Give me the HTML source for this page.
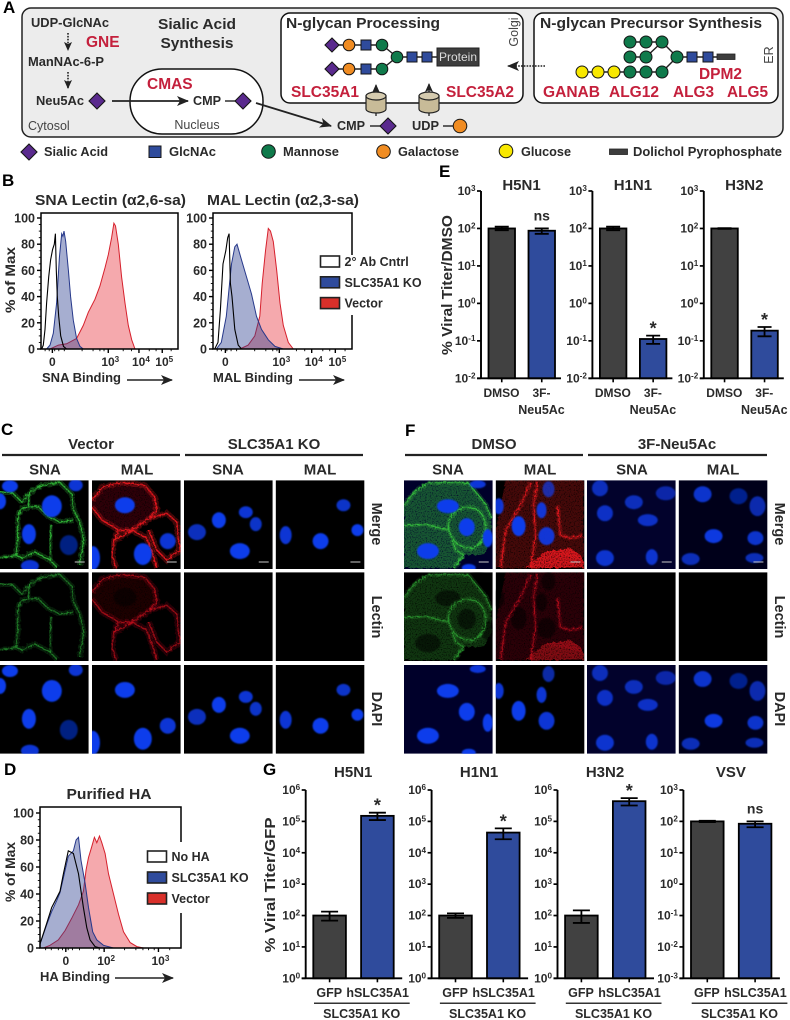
<!DOCTYPE html>
<html lang="en">
<head>
<meta charset="utf-8">
<title>SLC35A1 sialic acid figure</title>
<style>
html,body{margin:0;padding:0;background:#fff;}
#figure{display:block;font-family:"Liberation Sans",sans-serif;font-weight:bold;}
#figure text{fill:#2a2a2a;}
#figure text.red{fill:#c4203c;font-size:15.5px;}
#figure text.thin{font-weight:normal;fill:#444;font-size:12.5px;}
#figure text.let{fill:#000;font-size:17px;}
#figure text.s13{font-size:13px;}
#figure text.s15{font-size:15px;}
.sia{fill:#5a2a8e;stroke:#151515;stroke-width:1.1;}
.glc{fill:#2f4b9c;stroke:#151515;stroke-width:1;}
.man{fill:#0f7a4b;stroke:#151515;stroke-width:1;}
.gal{fill:#f08c22;stroke:#151515;stroke-width:1;}
.glu{fill:#f8e800;stroke:#151515;stroke-width:1;}
.lnk{stroke:#222;stroke-width:1.4;fill:none;}
</style>
</head>
<body>
<svg id="figure" xmlns="http://www.w3.org/2000/svg" width="790" height="1020" viewBox="0 0 790 1020">
<defs>
<marker id="ah" markerUnits="userSpaceOnUse" markerWidth="12" markerHeight="10" refX="11" refY="5" orient="auto"><path d="M0 0L12 5L0 10L3 5Z" fill="#222"/></marker>
<marker id="ahs" markerUnits="userSpaceOnUse" markerWidth="9" markerHeight="8" refX="8" refY="4" orient="auto"><path d="M0 0L9 4L0 8L2 4Z" fill="#222"/></marker>
<filter id="blur" x="-30%" y="-30%" width="160%" height="160%"><feGaussianBlur stdDeviation="0.9"/></filter>
<filter id="rough" x="-10%" y="-10%" width="120%" height="120%">
<feTurbulence type="fractalNoise" baseFrequency="0.3" numOctaves="2" seed="4" result="n"/>
<feDisplacementMap in="SourceGraphic" in2="n" scale="3.5" result="d"/>
<feTurbulence type="fractalNoise" baseFrequency="0.8" numOctaves="1" seed="9"/>
<feColorMatrix type="matrix" values="0 0 0 0 1 0 0 0 0 1 0 0 0 0 1 2.6 0 0 0 -0.35" result="g"/>
<feComposite in="d" in2="g" operator="in"/>
<feGaussianBlur stdDeviation="0.25"/>
</filter>
<g id="cyl"><path d="M-10 -9V4A10 4 0 0 0 10 4V-9Z" fill="#c8bb98" stroke="#222" stroke-width="1.2"/><ellipse cx="0" cy="-9" rx="10" ry="4" fill="#d5cbaf" stroke="#222" stroke-width="1.2"/></g>
</defs>

<g>
<text class="let" x="3" y="13">A</text>
<rect x="22" y="8" width="761" height="129" rx="9" fill="#ececec" stroke="#222" stroke-width="1.5"/>
<text x="70" y="27" text-anchor="middle" font-size="13" textLength="78" lengthAdjust="spacingAndGlyphs">UDP-GlcNAc</text>
<text class="red" x="86" y="47">GNE</text>
<text x="66" y="66" text-anchor="middle" font-size="13" textLength="76" lengthAdjust="spacingAndGlyphs">ManNAc-6-P</text>
<line x1="68" y1="33" x2="68" y2="50" stroke="#222" stroke-width="1.6" stroke-dasharray="1.6 1.3" marker-end="url(#ahs)"/>
<line x1="68" y1="72" x2="68" y2="88" stroke="#222" stroke-width="1.6" stroke-dasharray="1.6 1.3" marker-end="url(#ahs)"/>
<text x="36" y="105" font-size="13" textLength="48" lengthAdjust="spacingAndGlyphs">Neu5Ac</text>
<path class="sia" transform="translate(97,101)" d="M-8 0L0-8L8 0L0 8Z"/>
<text class="s15" x="197" y="29" text-anchor="middle" textLength="78" lengthAdjust="spacingAndGlyphs">Sialic Acid</text>
<text class="s15" x="197" y="48" text-anchor="middle" textLength="73" lengthAdjust="spacingAndGlyphs">Synthesis</text>
<rect x="130" y="69" width="133" height="65" rx="32" fill="#fff" stroke="#111" stroke-width="1.5"/>
<text class="red" x="147" y="89">CMAS</text>
<line x1="112" y1="101" x2="188" y2="101" stroke="#222" stroke-width="1.8" marker-end="url(#ah)"/>
<text x="193" y="105" font-size="13" textLength="28" lengthAdjust="spacingAndGlyphs">CMP</text>
<line class="lnk" x1="225" y1="101" x2="236" y2="101"/>
<path class="sia" transform="translate(243,101)" d="M-8 0L0-8L8 0L0 8Z"/>
<text class="thin" x="197" y="129" text-anchor="middle">Nucleus</text>
<text class="thin" x="28" y="130">Cytosol</text>
<line x1="256" y1="103" x2="331" y2="126" stroke="#222" stroke-width="1.9" marker-end="url(#ah)"/>
<text x="337" y="130" font-size="13" textLength="28" lengthAdjust="spacingAndGlyphs">CMP</text>
<line class="lnk" x1="370" y1="126" x2="381" y2="126"/>
<path class="sia" transform="translate(388,126)" d="M-8 0L0-8L8 0L0 8Z"/>
<text x="412" y="130" font-size="13" textLength="27" lengthAdjust="spacingAndGlyphs">UDP</text>
<line class="lnk" x1="443" y1="126" x2="453" y2="126"/>
<circle class="gal" cx="460" cy="126" r="6.8"/>

<rect x="281" y="13" width="242" height="90" rx="9" fill="#fff" stroke="#111" stroke-width="1.5"/>
<text class="s15" x="286" y="28" textLength="154" lengthAdjust="spacingAndGlyphs">N-glycan Processing</text>
<g>
<path class="lnk" d="M332 45H382L397 57M332 69H382L397 57H437"/>
<path class="sia" transform="translate(332,45)" d="M-7 0L0-7L7 0L0 7Z"/><circle class="gal" cx="349" cy="45" r="5.8"/><rect class="glc" x="361" y="40" width="10" height="10"/><circle class="man" cx="382" cy="45" r="5.8"/>
<path class="sia" transform="translate(332,69)" d="M-7 0L0-7L7 0L0 7Z"/><circle class="gal" cx="349" cy="69" r="5.8"/><rect class="glc" x="361" y="64" width="10" height="10"/><circle class="man" cx="382" cy="69" r="5.8"/>
<circle class="man" cx="397" cy="57" r="5.8"/><rect class="glc" x="407" y="52" width="10" height="10"/><rect class="glc" x="422" y="52" width="10" height="10"/>
</g>
<rect x="437" y="48" width="42" height="18" fill="#3d3d3d" stroke="#222"/>
<text x="458" y="61" text-anchor="middle" font-size="12" font-weight="normal" style="fill:#ddd">Protein</text>
<text class="red" x="291" y="97" textLength="68" lengthAdjust="spacingAndGlyphs">SLC35A1</text>
<text class="red" x="446" y="97" textLength="68" lengthAdjust="spacingAndGlyphs">SLC35A2</text>
<text class="thin" transform="translate(518,32) rotate(-90)" text-anchor="middle" font-size="12">Golgi</text>
<line x1="376" y1="96" x2="376" y2="85" stroke="#222" stroke-width="1.3" marker-end="url(#ahs)"/>
<line x1="376" y1="108" x2="376" y2="116" stroke="#222" stroke-width="1.3"/>
<use href="#cyl" x="376" y="105"/>
<line x1="429" y1="96" x2="429" y2="84" stroke="#222" stroke-width="1.3" marker-end="url(#ahs)"/>
<line x1="429" y1="108" x2="429" y2="116" stroke="#222" stroke-width="1.3"/>
<use href="#cyl" x="429" y="105"/>

<rect x="534" y="13" width="244" height="90" rx="9" fill="#fff" stroke="#111" stroke-width="1.5"/>
<line x1="545" y1="66" x2="508" y2="66" stroke="#222" stroke-width="1.6" stroke-dasharray="1.6 1.2" marker-end="url(#ah)"/>
<text class="s15" x="540" y="28" textLength="222" lengthAdjust="spacingAndGlyphs">N-glycan Precursor Synthesis</text>
<g>
<path class="lnk" d="M630 42H662L677 57M630 57H646L662 42M582 72H662L677 57H717"/>
<circle class="man" cx="630" cy="42" r="6"/><circle class="man" cx="646" cy="42" r="6"/><circle class="man" cx="662" cy="42" r="6"/>
<circle class="man" cx="630" cy="57" r="6"/><circle class="man" cx="646" cy="57" r="6"/><circle class="man" cx="677" cy="57" r="6"/>
<circle class="man" cx="630" cy="72" r="6"/><circle class="man" cx="646" cy="72" r="6"/><circle class="man" cx="662" cy="72" r="6"/>
<circle class="glu" cx="582" cy="72" r="6"/><circle class="glu" cx="598" cy="72" r="6"/><circle class="glu" cx="614" cy="72" r="6"/>
<rect class="glc" x="687" y="52" width="10" height="10"/><rect class="glc" x="703" y="52" width="10" height="10"/>
<rect x="717" y="54" width="18" height="5.5" fill="#3d3d3d" stroke="#222" stroke-width=".8"/>
</g>
<text class="red" x="699" y="79" textLength="43" lengthAdjust="spacingAndGlyphs">DPM2</text>
<text class="red" x="543" y="97" textLength="57" lengthAdjust="spacingAndGlyphs">GANAB</text>
<text class="red" x="609" y="97" textLength="50" lengthAdjust="spacingAndGlyphs">ALG12</text>
<text class="red" x="673" y="97" textLength="41" lengthAdjust="spacingAndGlyphs">ALG3</text>
<text class="red" x="727" y="97" textLength="41" lengthAdjust="spacingAndGlyphs">ALG5</text>
<text class="thin" transform="translate(773,55) rotate(-90)" text-anchor="middle" font-size="12">ER</text>
</g>

<g>
<path class="sia" transform="translate(29,152)" d="M-8 0L0-8L8 0L0 8Z"/>
<text x="44" y="156" font-size="12.5" textLength="64" lengthAdjust="spacingAndGlyphs">Sialic Acid</text>
<rect class="glc" x="149" y="146" width="12" height="11.5"/>
<text x="169" y="156" font-size="12.5" textLength="47" lengthAdjust="spacingAndGlyphs">GlcNAc</text>
<circle class="man" cx="268.500" cy="151.500" r="6.800"/>
<text x="283" y="156" font-size="12.5" textLength="56" lengthAdjust="spacingAndGlyphs">Mannose</text>
<circle class="gal" cx="383.500" cy="151.500" r="6.800"/>
<text x="398" y="156" font-size="12.5" textLength="61" lengthAdjust="spacingAndGlyphs">Galactose</text>
<circle class="glu" cx="506" cy="151" r="6.800"/>
<text x="521" y="156" font-size="12.5" textLength="50" lengthAdjust="spacingAndGlyphs">Glucose</text>
<rect x="609.500" y="149" width="18" height="5.500" fill="#3d3d3d" stroke="#222" stroke-width=".8"/>
<text x="633" y="156" font-size="12.5" textLength="149" lengthAdjust="spacingAndGlyphs">Dolichol Pyrophosphate</text>
</g>

<text class="let" x="2" y="186">B</text>
<text class="let" x="439" y="177">E</text>
<text class="let" x="1" y="435">C</text>
<text class="let" x="405" y="436">F</text>
<text class="let" x="4" y="775">D</text>
<text class="let" x="263" y="775">G</text>

<text x="35" y="205" font-size="15" textLength="151" lengthAdjust="spacingAndGlyphs">SNA Lectin (α2,6-sa)</text>
<text x="207" y="205" font-size="15" textLength="152" lengthAdjust="spacingAndGlyphs">MAL Lectin (α2,3-sa)</text>
<text transform="translate(15,280) rotate(-90)" text-anchor="middle" font-size="14" textLength="66" lengthAdjust="spacingAndGlyphs">% of Max</text>
<text x="42" y="382" font-size="12.5" textLength="79" lengthAdjust="spacingAndGlyphs">SNA Binding</text>
<line x1="127" y1="380" x2="172" y2="380" stroke="#222" stroke-width="1.6" marker-end="url(#ah)"/>
<text x="213" y="382" font-size="12.5" textLength="80" lengthAdjust="spacingAndGlyphs">MAL Binding</text>
<line x1="299" y1="380" x2="344" y2="380" stroke="#222" stroke-width="1.6" marker-end="url(#ah)"/>
<text x="109" y="799" text-anchor="middle" font-size="15" textLength="85" lengthAdjust="spacingAndGlyphs">Purified HA</text>
<text transform="translate(15,872) rotate(-90)" text-anchor="middle" font-size="14" textLength="60" lengthAdjust="spacingAndGlyphs">% of Max</text>
<text x="40" y="981" font-size="12.5" textLength="70" lengthAdjust="spacingAndGlyphs">HA Binding</text>
<line x1="115" y1="978" x2="173" y2="978" stroke="#222" stroke-width="1.6" marker-end="url(#ah)"/>
<text transform="translate(452,285) rotate(-90)" text-anchor="middle" font-size="14.5" textLength="140" lengthAdjust="spacingAndGlyphs">% Viral Titer/DMSO</text>
<text transform="translate(275,885) rotate(-90)" text-anchor="middle" font-size="14.5" textLength="135" lengthAdjust="spacingAndGlyphs">% Viral Titer/GFP</text>

<g id="layer-hist"></g>
<g id="layer-bars"></g>
<g id="layer-micro"></g>
</svg>

<script>
/* Panel B: SNA histogram (channel 0-100, percent of max) */
const snaCtrlCh=[0.5,1.7,2.9,4.1,5.6,7,8.5,9.7,10.5,11.2,11.9,12.9,14.4,16.4,18.7];
const snaCtrlPct=[0,3,15,35,55,68,76,80,88,60,40,25,10,2,0];
const snaKoCh=[4.1,6.6,9,11.4,13.4,15.1,16,16.8,18,20,21.6,23.6,26,28.5,30.9];
const snaKoPct=[0,3,12,35,70,88,86,90,82,60,40,22,8,2,0];
const snaVecCh=[6.6,12.7,18.7,26,30.9,34.5,39.4,43,46.7,49.1,51.5,53.2,54.4,56.4,58.8,61.3,63.7,66.2,68.6];
const snaVecPct=[0,3,4,8,18,28,38,48,62,72,85,96,94,80,55,35,18,7,0];
const snaTickCh=[8.3,49.1,71.5,88.5];
const snaTickExp=[null,3,4,5];
const snaMinorCh=[3,6,10,13,17,30,38,43,46,60,66,79,84,95];
/* Panel B: MAL histogram */
const malCtrlCh=[1.2,3.6,5.3,7.2,9.2,10.6,11.6,12.5,13.7,15.7,18.1,20.5];
const malCtrlPct=[0,5,30,65,75,85,88,50,40,15,3,0];
const malKoCh=[2.4,6,9.6,13.3,15.7,17.3,20.5,24.1,27.7,31.3,34.9,39.8,44.6,50.6];
const malKoPct=[0,5,25,65,78,80,68,55,42,25,15,7,2,0];
const malVecCh=[19.3,25.3,30.1,33.7,35.4,37.8,39.8,41.4,43.4,45.8,48.2,50.6,54.2,57.8];
const malVecPct=[0,3,10,25,50,75,92,90,82,60,35,18,5,0];
const malTickCh=[8.9,47.7,71,88];
const malTickExp=[null,3,4,5];
const malMinorCh=[3,6,10,13,17,30,38,43,46,60,66,79,84,95];
/* Panel D: HA histogram */
const haCtrlCh=[0,4.7,8.3,11.8,14.2,16.6,20.1,23.7,27.3,30.8,33.2,35.5,39.1,42.7];
const haCtrlPct=[3,18,30,37,42,55,72,70,55,30,15,6,1,0];
const haKoCh=[0,4.7,8.3,11.8,14.2,16.6,20.1,23.7,25.6,27.3,29.1,32,34.4,37.4,40.3,45,52.1];
const haKoPct=[3,17,27,35,41,52,68,72,80,82,65,48,30,12,6,2,0];
const haVecCh=[2.4,7.1,13,17.8,22.5,27.3,30.8,32.7,34.4,36.7,38.6,40.3,42.2,43.8,46.2,48.6,52.1,55.7,59.2,64,68.7,73.5];
const haVecPct=[0,2,6,13,22,32,42,58,67,75,82,78,83,78,70,55,40,25,12,4,1,0];
const haTickCh=[18.3,45.5,84];
const haTickExp=[null,2,3];
const haMinorCh=[4,8,13,16,20,23,28,38,42,60,68,73,77,81,92];
/* Shared histogram y ticks and legends */
const pctTicks=[0,20,40,60,80,100];
const flowLegendB=['2° Ab Cntrl','SLC35A1 KO','Vector'];
const flowLegendD=['No HA','SLC35A1 KO','Vector'];

/* Panel E: titer relative to DMSO */
const eStrains=['H5N1','H1N1','H3N2'];
const eCategories=['DMSO','3F-','Neu5Ac'];
const eControl=[100,100,100];
const eControlLow=[90,90,98];
const eControlHigh=[112,112,102];
const eTreated=[87,0.112,0.187];
const eTreatedLow=[72,0.083,0.132];
const eTreatedHigh=[100,0.138,0.234];
const eMarks=['ns','*','*'];
const eTickExps=[-2,-1,0,1,2,3];

/* Panel G: titer relative to GFP */
const gStrains=['H5N1','H1N1','H3N2','VSV'];
const gCategories=['GFP','hSLC35A1'];
const gGroupLabel='SLC35A1 KO';
const gControl=[100,100,100,100];
const gControlLow=[69,84,58,95];
const gControlHigh=[133,117,146,105];
const gRescue=[150000,44000,440000,84];
const gRescueLow=[110000,27000,320000,65];
const gRescueHigh=[189000,60000,550000,100];
const gMarks=['*','*','*','ns'];
const gTickExps=[[0,1,2,3,4,5,6],[0,1,2,3,4,5,6],[0,1,2,3,4,5,6],[-3,-2,-1,0,1,2,3]];

const NS='http://www.w3.org/2000/svg';
function mk(parent,tag,attrs,txt){
  const e=document.createElementNS(NS,tag);
  for(const k in attrs)e.setAttribute(k,attrs[k]);
  if(txt!==undefined)e.textContent=txt;
  parent.appendChild(e);
  return e;
}
function powerLabel(parent,x,y,anchor,exp,size){
  const t=mk(parent,'text',{x:x,y:y,'text-anchor':anchor,'font-size':size},'10');
  const s=mk(t,'tspan',{dy:-4,'font-size':size*0.68},String(exp));
  
  
  return t;
}

/* ---------- flow histograms ---------- */
function drawFlow(opt){
  const g=mk(document.getElementById('layer-hist'),'g',{});
  
  
  const X=c=>opt.left+c/100*(opt.right-opt.left);
  const Y=p=>opt.base-p/100*(opt.base-opt.y100);
  const area=(xs,ys)=>{
    let d='M'+X(xs[0]).toFixed(1)+' '+opt.base;
    xs.forEach((c,i)=>{d+='L'+X(c).toFixed(1)+' '+Y(ys[i]).toFixed(1);});
    return d+'L'+X(xs[xs.length-1]).toFixed(1)+' '+opt.base;
  };
  const vec=mk(g,'path',{d:area(opt.vecX,opt.vecY),fill:'#e8323c','fill-opacity':0.42,stroke:'#d6202c','stroke-width':1});
  
  
  const ko=mk(g,'path',{d:area(opt.koX,opt.koY),fill:'#2a3f90','fill-opacity':0.42,stroke:'#26388a','stroke-width':1});
  
  
  const ctl=mk(g,'path',{d:area(opt.ctlX,opt.ctlY),fill:'none',stroke:'#000','stroke-width':1.1});
  
  
  const frame=mk(g,'path',{d:`M${opt.left} ${opt.top}H${opt.right}V${opt.base}H${opt.left}Z`,fill:'none',stroke:'#000','stroke-width':1.5});
  
  
  pctTicks.forEach((p,i)=>{
    const tk=mk(g,'line',{x1:opt.left-4,x2:opt.left,y1:Y(p),y2:Y(p),stroke:'#000','stroke-width':1.4});
    
    
    const lb=mk(g,'text',{x:opt.left-6,y:Y(p)+4.5,'text-anchor':'end','font-size':12.5},String(p));
    
    
    if(i<pctTicks.length-1){
      [5,10,15].forEach(o=>{
        const m=mk(g,'line',{x1:opt.left-2.2,x2:opt.left,y1:Y(p+o),y2:Y(p+o),stroke:'#000','stroke-width':.9});
        
        
      });
    }
  });
  opt.minor.forEach(c=>{
    const m=mk(g,'line',{x1:X(c),x2:X(c),y1:opt.base,y2:opt.base+2.2,stroke:'#000','stroke-width':.9});
    
    
  });
  opt.ticks.forEach((c,i)=>{
    const tk=mk(g,'line',{x1:X(c),x2:X(c),y1:opt.base,y2:opt.base+4,stroke:'#000','stroke-width':1.4});
    
    
    let lb;
    if(opt.exps[i]===null){
      lb=mk(g,'text',{x:X(c),y:opt.labelY,'text-anchor':'middle','font-size':12},'0');
    }else{
      lb=powerLabel(g,X(c)+2,opt.labelY,'middle',opt.exps[i],12);
    }
    
    
  });
  if(opt.gapTop){
    const legendBg=mk(g,'rect',{x:opt.right-6,y:opt.gapTop,width:12,height:opt.gapH,fill:'#fff'});
    
    
  }
}
function drawLegend(x,y,names,step,w){
  const g=mk(document.getElementById('layer-hist'),'g',{});
  
  
  const fills=['#fff','#2f4b9c','#d9302a'];
  names.forEach((n,i)=>{
    const r=mk(g,'rect',{x:x,y:y+i*step,width:w,height:11,fill:fills[i],stroke:'#222','stroke-width':1.6});
    
    
    const t=mk(g,'text',{x:x+w+5,y:y+i*step+10,'font-size':12.5},n);
    
    
  });
}
drawFlow({left:41,right:178,top:213,y100:218,base:349,labelY:366,ctlX:snaCtrlCh,ctlY:snaCtrlPct,koX:snaKoCh,koY:snaKoPct,vecX:snaVecCh,vecY:snaVecPct,ticks:snaTickCh,exps:snaTickExp,minor:snaMinorCh});
drawFlow({left:213,right:352,top:213,y100:218,base:349,labelY:366,ctlX:malCtrlCh,ctlY:malCtrlPct,koX:malKoCh,koY:malKoPct,vecX:malVecCh,vecY:malVecPct,ticks:malTickCh,exps:malTickExp,minor:malMinorCh,gapTop:255,gapH:60});
drawFlow({left:40,right:181,top:807,y100:813,base:948,labelY:965,ctlX:haCtrlCh,ctlY:haCtrlPct,koX:haKoCh,koY:haKoPct,vecX:haVecCh,vecY:haVecPct,ticks:haTickCh,exps:haTickExp,minor:haMinorCh,gapTop:842,gapH:71});
drawLegend(320.5,256,flowLegendB,20.8,19);
drawLegend(147.5,851,flowLegendD,21,19);

/* ---------- bar charts ---------- */
function drawBars(opt){
  const g=mk(document.getElementById('layer-bars'),'g',{});
  
  
  const minE=Math.min(...opt.exps),maxE=Math.max(...opt.exps);
  const Y=v=>opt.base-(Math.log10(v)-minE)/(maxE-minE)*(opt.base-opt.top);
  const title=mk(g,'text',{x:opt.titleX,y:opt.titleY,'text-anchor':'middle','font-size':15},opt.title);
  
  
  opt.exps.forEach(ex=>{
    const y=Y(Math.pow(10,ex));
    const tk=mk(g,'line',{x1:opt.axis-4,x2:opt.axis,y1:y,y2:y,stroke:'#000','stroke-width':1.7});
    
    
    const lb=powerLabel(g,opt.axis-5.5,y+4,'end',ex,12);
    
    
  });
  opt.bars.forEach((b,i)=>{
    const x=opt.axis+opt.barOff[i];
    const cx=x+opt.barW/2;
    const top=Y(b.v);
    const rect=mk(g,'rect',{x:x,y:top,width:opt.barW,height:opt.base-top,fill:i?'#2f4b9c':'#414141',stroke:'#000','stroke-width':1.8});
    
    
    const hi=Y(b.hi),lo=Y(b.lo);
    const err=mk(g,'path',{d:`M${cx-opt.cap} ${hi}H${cx+opt.cap}M${cx} ${hi}V${lo}M${cx-opt.cap} ${lo}H${cx+opt.cap}`,fill:'none',stroke:'#000','stroke-width':1.8});
    
    
    const tk=mk(g,'line',{x1:cx,x2:cx,y1:opt.base,y2:opt.base+4,stroke:'#000','stroke-width':1.6});
    
    
    if(i===1&&opt.mark){
      const isStar=opt.mark==='*';
      const m=mk(g,'text',{x:cx,y:isStar?hi-1:hi-8,'text-anchor':'middle','font-size':isStar?18:14},opt.mark);
      
      
    }
  });
  const ax=mk(g,'path',{d:`M${opt.axis} ${opt.top}V${opt.base}H${opt.axis+opt.axisLen}M${opt.axis-4} ${opt.base}H${opt.axis}`,fill:'none',stroke:'#000','stroke-width':1.9});
  
  
  return g;
}
eStrains.forEach((s,i)=>{
  const axis=481+111.4*i;
  const g=drawBars({axis:axis,top:191,base:378.3,exps:eTickExps,barOff:[7.5,47.5],barW:26.5,cap:7,axisLen:80,title:s,titleX:axis+40.5,titleY:190,mark:eMarks[i],
    bars:[{v:eControl[i],lo:eControlLow[i],hi:eControlHigh[i]},{v:eTreated[i],lo:eTreatedLow[i],hi:eTreatedHigh[i]}]});
  const a=mk(g,'text',{x:axis+20.5,y:397,'text-anchor':'middle','font-size':12},eCategories[0]);
  
  
  const b=mk(g,'text',{x:axis+60.5,y:397,'text-anchor':'middle','font-size':12},eCategories[1]);
  
  
  const c=mk(g,'text',{x:axis+60.5,y:414,'text-anchor':'middle','font-size':12.5},eCategories[2]);
  
  
});
gStrains.forEach((s,i)=>{
  const axis=305.7+125.9*i;
  const g=drawBars({axis:axis,top:790,base:978.3,exps:gTickExps[i],barOff:[7.6,55.4],barW:32.6,cap:8.5,axisLen:96.5,title:s,titleX:axis+47.5,titleY:777,mark:gMarks[i],
    bars:[{v:gControl[i],lo:gControlLow[i],hi:gControlHigh[i]},{v:gRescue[i],lo:gRescueLow[i],hi:gRescueHigh[i]}]});
  const a=mk(g,'text',{x:axis+23.5,y:997,'text-anchor':'middle','font-size':12.5},gCategories[0]);
  
  
  const b=mk(g,'text',{x:axis+72,y:997,'text-anchor':'middle','font-size':12.5},gCategories[1]);
  
  
  const l=mk(g,'line',{x1:axis+8.3,x2:axis+104,y1:1003.3,y2:1003.3,stroke:'#333','stroke-width':1.5});
  
  
  const c=mk(g,'text',{x:axis+56,y:1018,'text-anchor':'middle','font-size':12.5},gGroupLabel);
  
  
});

/* ---------- microscopy ---------- */
const micro=document.getElementById('layer-micro');
const fieldRows=[480.3,572.3,665];
const cSNA={color:'#2fb536',nuclei:[[52,26,10,11,1],[10,6,8,6,1],[0,21,6,8,1],[76,5,7,6,.9],[29,54,7,10,1],[69,65,9,10,.55],[30,86,9,6,.9]],
 lines:['M30 12L42 5L60 2L72 14L74 30L80 42L84 60L80 85','M0 12L12 12L22 22L30 12','M18 36L22 28L38 26L48 36L60 42L74 40','M18 36L18 60L16 75L22 78L35 72L50 80L58 88','M52 44L50 60L50 80','M0 78L16 75','M30 12L28 26'],w:2.3,fills:[]};
const cMAL={color:'#e8141c',nuclei:[[33,25,10,8,1],[76,61,8,8,.9],[51,74,9,11,1],[1,78,7,12,1]],
 lines:['M0 20L10 7L30 2L53 5L63 17L65 30L58 38L40 50L27 50L10 40L0 27','M27 50L22 60L20 75L24 88','M40 50L55 58L60 72L65 88','M22 60L30 56L40 50','M58 38L75 33L85 42L88 70L75 80L65 70L57 50'],w:2.6,fills:[['M0 20L10 7L30 2L53 5L63 17L65 30L58 38L40 50L27 50L10 40L0 27Z',.2]]};
const cKo1={color:'#000',nuclei:[[13,52,9,8,.8],[35,40,7,8,1],[62,32,7,6,.9],[72,44,6,7,.85],[56,71,10,8,1]],lines:[],w:0,fills:[]};
const cKo2={color:'#000',nuclei:[[68,25,7,6,.85],[10,55,6,9,.9],[45,61,8,8,1],[82,50,6,6,1]],lines:[],w:0,fills:[]};
const fSNA={color:'#35c43c',bg:'#00002a',nuclei:[[44,26,11,7,1],[63,47,8,9,1],[24,71,11,8,1],[74,4,8,4,.9],[84,58,5,9,1],[65,88,7,4,1]],
 lines:['M0 25L10 12L25 2L55 2L65 3L82 24L88 38','M44 47Q46 30 62 27Q78 26 82 44Q82 62 70 68Q50 70 44 47','M0 45L22 44L44 50','M48 60L52 70L60 75L50 88'],w:1.9,
 fills:[['M0 25L10 12L25 2L65 3L82 24L88 38L88 60L80 75L70 75L60 75L50 88L0 88Z',.44]]};
const fMAL={color:'#e8141c',nuclei:[[23,46,7,10,1],[46,30,5,8,.9],[53,9,6,8,.7],[51,56,8,9,.9],[3,26,5,8,.9]],
 lines:['M35 2L25 25L10 50L5 88','M42 2L38 25L40 55L35 88','M62 25L65 55L75 58L88 55'],w:1.8,
 fills:[['M10 0H88V80L48 72L30 88H0V50Z',.3],['M30 88L48 72L75 68L85 75L88 80V88Z',.9]]};
const fDrug1={color:'#000',bg:'#02022c',nuclei:[[13,8,8,8,.75],[79,13,10,7,.65],[47,22,9,7,.75],[18,33,8,8,.8],[61,40,10,6,.8],[18,78,9,8,.85],[65,77,6,8,.85]],lines:[],w:0,fills:[]};
const fDrug2={color:'#000',bg:'#00001a',nuclei:[[24,14,9,8,.85],[60,16,9,8,.55],[79,26,8,10,.7],[35,56,9,7,.95],[77,58,8,7,.85],[12,79,9,6,.75],[76,78,9,5,.75]],lines:[],w:0,fills:[]};

function drawField(px,py,spec,row){
  const s=mk(micro,'svg',{x:px,y:py,width:88.7,height:88.7,viewBox:'0 0 89 89'});
  
  
  mk(s,'rect',{x:0,y:0,width:89,height:89,fill:(row!==1&&spec.bg)?spec.bg:'#000'});
  if(row<2){
    const alpha=row===0?1:.62;
    spec.fills.forEach(f=>{
      mk(s,'path',{d:f[0],fill:spec.color,'fill-opacity':f[1]*alpha,filter:'url(#rough)'});
    });
    if(row===1&&spec.fills.length){
      spec.nuclei.forEach(n=>mk(s,'ellipse',{cx:n[0],cy:n[1],rx:n[2]*1.15,ry:n[3]*1.15,fill:'#000','fill-opacity':.55,filter:'url(#blur)'}));
    }
    spec.lines.forEach(d=>{
      mk(s,'path',{d:d,fill:'none',stroke:spec.color,'stroke-opacity':.3*alpha,'stroke-width':spec.w*2.4,filter:'url(#rough)'});
      mk(s,'path',{d:d,fill:'none',stroke:spec.color,'stroke-opacity':.95*alpha,'stroke-width':spec.w*.6,filter:'url(#rough)'});
    });
  }
  if(row!==1){
    spec.nuclei.forEach(n=>{
      const e=mk(s,'ellipse',{cx:n[0],cy:n[1],rx:n[2],ry:n[3],fill:'#0a3ceb','fill-opacity':n[4],filter:'url(#blur)'});
      
      
    });
  }
  if(row===0){
    const b=mk(s,'line',{x1:75,x2:85,y1:82,y2:82,stroke:'#c8c8c8','stroke-width':1});
    
    
  }
}
function drawGrid(cols,specs){
  cols.forEach((x,i)=>fieldRows.forEach((y,r)=>drawField(x,y,specs[i],r)));
}
drawGrid([0,92,184,275.7],[cSNA,cMAL,cKo1,cKo2]);
drawGrid([404,495.700,587,678.700],[fSNA,fMAL,fDrug1,fDrug2]);

function header(centers,groups,groupCenters,lines,sideX){
  groups.forEach((t,i)=>{
    const h=mk(micro,'text',{x:groupCenters[i],y:449,'text-anchor':'middle','font-size':15},t);
    
    
    const l=mk(micro,'line',{x1:lines[i][0],x2:lines[i][1],y1:455,y2:455,stroke:'#222','stroke-width':2.2});
    
    
  });
  ['SNA','MAL','SNA','MAL'].forEach((t,i)=>{
    const c=mk(micro,'text',{x:centers[i],y:474.5,'text-anchor':'middle','font-size':15},t);
    
    
  });
  ['Merge','Lectin','DAPI'].forEach((t,i)=>{
    const r=mk(micro,'text',{transform:`translate(${sideX},${[524,617,709][i]}) rotate(90)`,'text-anchor':'middle','font-size':14.5},t);
    
    
  });
}
header([45,137,228,320],['Vector','SLC35A1 KO'],[91,274],[[2,180],[185,363]],372);
header([448,540,632,723],['DMSO','3F-Neu5Ac'],[494,677],[[405,583],[588,767]],775);
</script>
</body>
</html>
